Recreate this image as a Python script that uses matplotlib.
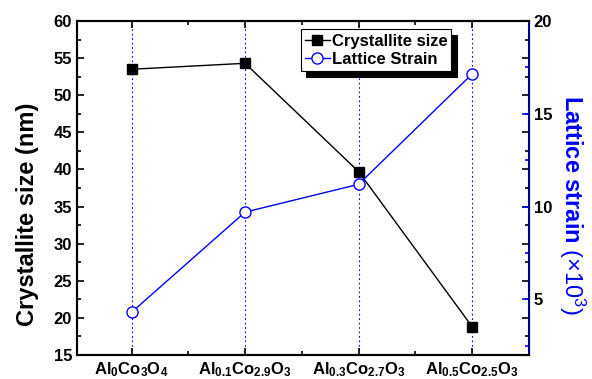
import numpy as np
import matplotlib
matplotlib.use("Agg")
import matplotlib.pyplot as plt
from matplotlib.ticker import MultipleLocator

plt.rcParams["font.family"] = ["Liberation Sans", "DejaVu Sans"]
plt.rcParams["mathtext.fontset"] = "custom"
plt.rcParams["mathtext.rm"] = "Liberation Sans"
plt.rcParams["mathtext.it"] = "Liberation Sans:italic"
plt.rcParams["mathtext.bf"] = "Liberation Sans:bold"

# samples and measured values
samples = [
    r"$\mathbf{Al_{0}Co_{3}O_{4}}$",
    r"$\mathbf{Al_{0.1}Co_{2.9}O_{3}}$",
    r"$\mathbf{Al_{0.3}Co_{2.7}O_{3}}$",
    r"$\mathbf{Al_{0.5}Co_{2.5}O_{3}}$",
]
crystallite_size = [53.5, 54.3, 39.7, 18.8]
lattice_strain = [4.3, 9.7, 11.2, 17.15]

x = np.arange(len(samples))

fig = plt.figure(figsize=(5.92, 3.79), dpi=100)
ax = fig.add_axes([77 / 592, 24 / 379, 452 / 592, 334 / 379])
ax2 = ax.twinx()

for xi in x:
    ax.axvline(xi, color="blue", linestyle=(0, (1.5, 2.5)), linewidth=0.8, zorder=0)

l1, = ax.plot(x, crystallite_size, color="black", marker="s", markersize=7,
              linewidth=1.0, label="Crystallite size")
l2, = ax2.plot(x, lattice_strain, color="blue", marker="o", markersize=8,
               markerfacecolor="white", markeredgecolor="blue", linewidth=1.0,
               label="Lattice Strain")

ax.set_xlim(-0.48, 3.5)
ax.set_ylim(15, 60)
ax2.set_ylim(2, 20)

ax.set_xticks(x)
ax.set_xticklabels(samples, fontsize=12)
ax.xaxis.set_minor_locator(MultipleLocator(0.5))
ax.yaxis.set_major_locator(MultipleLocator(5))
ax.yaxis.set_minor_locator(MultipleLocator(2.5))
ax2.yaxis.set_major_locator(MultipleLocator(5))
ax2.yaxis.set_minor_locator(MultipleLocator(2.5))

ax.tick_params(axis="both", which="both", direction="in", top=True, right=True,
               width=1.2)
ax.tick_params(which="major", length=5)
ax.tick_params(which="minor", length=3)
ax.tick_params(axis="x", which="minor", top=True, bottom=True)
ax.tick_params(axis="y", labelsize=12)
ax2.tick_params(axis="y", which="both", direction="in", colors="blue",
                labelcolor="black", labelsize=12, width=1.2)
ax2.tick_params(which="major", length=5)
ax2.tick_params(which="minor", length=3)

for lbl in ax.get_yticklabels() + ax2.get_yticklabels():
    lbl.set_fontweight("bold")

for side in ["left", "bottom", "top"]:
    ax.spines[side].set_linewidth(1.5)
    ax2.spines[side].set_linewidth(1.5)
ax2.spines["right"].set_linewidth(1.5)
ax2.spines["right"].set_color("#00008b")

ax.set_ylabel("Crystallite size (nm)", fontsize=17, fontweight="bold")
ax.yaxis.set_label_coords(-0.085, 0.42)
ax2.set_ylabel(r"$\mathbf{Lattice\ strain}\ (\times10^3)$", fontsize=17,
               color="blue", rotation=270, ha="center", va="center")
ax2.yaxis.set_label_coords(1.095, 0.45)

leg = ax2.legend(handles=[l1, l2], loc="upper left",
                 bbox_to_anchor=(0.495, 0.975), fontsize=12, frameon=True,
                 fancybox=False, edgecolor="black", framealpha=1,
                 shadow={"color": "black", "alpha": 1, "ox": 4, "oy": -4},
                 handlelength=1.5, handletextpad=0.1, borderpad=0.25,
                 labelspacing=0.2, borderaxespad=0)
leg.get_frame().set_linewidth(0.8)
for t in leg.get_texts():
    t.set_fontweight("bold")

fig.savefig("out.png", dpi=100)
